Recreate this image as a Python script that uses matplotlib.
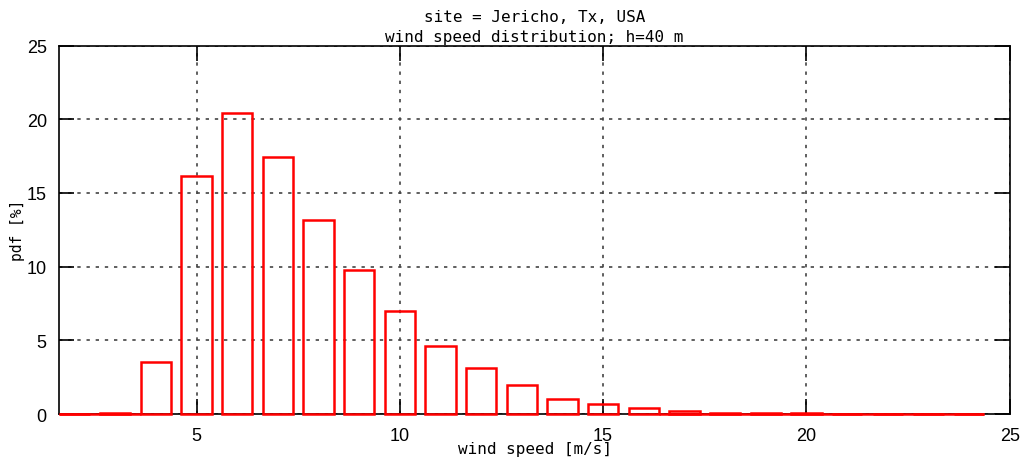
"""Wind speed distribution histogram, gnuplot-like style."""

import matplotlib
matplotlib.use("Agg")
import matplotlib.pyplot as plt
import numpy as np

RED = "#ff0000"
FONT = "DejaVu Sans Mono"
TICK_FONT = "Liberation Sans"

# bin centres [m/s] and pdf [%]
speed = [2, 3, 4, 5, 6, 7, 8, 9, 10, 11, 12, 13, 14, 15, 16, 17, 18, 19, 20, 21, 22, 23, 24]
pdf = [0.0, 0.07, 3.53, 16.15, 20.45, 17.45, 13.15, 9.75, 6.98, 4.64, 3.1, 1.97,
       1.02, 0.66, 0.43, 0.22, 0.07, 0.07, 0.07, 0.0, 0.0, 0.0, 0.0]
xticks = [5, 10, 15, 20, 25]
yticks = [0, 5, 10, 15, 20, 25]

BOX_W = 0.75

fig = plt.figure(figsize=(10.22, 4.64), dpi=100)
ax = fig.add_axes([0.058, 0.1056, 0.93, 0.794])

x = np.array(speed, dtype=float)
y = np.array(pdf)

ax.bar(x, y, width=BOX_W, facecolor="none", edgecolor=RED, linewidth=1.8,
       zorder=3, clip_on=False)

# near-zero tails show as a continuous red line along the baseline
tail = y < 0.3
lo = x[tail][x[tail] < 10]
hi = x[tail][x[tail] > 10]
ax.hlines(0, lo.min() - BOX_W / 2, lo.max() + 1 - BOX_W / 2, color=RED, lw=1.8,
          zorder=4, clip_on=False)
ax.hlines(0, hi.min() - 1 + BOX_W / 2, hi.max() + BOX_W / 2, color=RED, lw=1.8,
          zorder=4, clip_on=False)

ax.set_xlim(x.min() - BOX_W / 2, 25)
ax.set_ylim(0, 25)
ax.set_xticks(xticks)
ax.set_yticks(yticks)
ax.grid(True, color="#444444", linestyle=(0, (2, 3.5)), linewidth=1.2, zorder=1)
ax.tick_params(direction="in", length=11, width=1.2, top=True, right=True,
               labelsize=13, pad=9)
for lab in ax.get_xticklabels() + ax.get_yticklabels():
    lab.set_fontfamily(TICK_FONT)
for spine in ax.spines.values():
    spine.set_linewidth(1.2)
    spine.set_zorder(2)

ax.set_xlabel("wind speed [m/s]", fontfamily=FONT, fontsize=11.5, labelpad=-2)
ax.set_ylabel("pdf [%]", fontfamily=FONT, fontsize=10.5, labelpad=1)
ax.set_title("site = Jericho, Tx, USA\nwind speed distribution; h=40 m",
             fontfamily=FONT, fontsize=11.5, linespacing=1.45, pad=3)

fig.savefig("out.png", dpi=100, facecolor="white")
